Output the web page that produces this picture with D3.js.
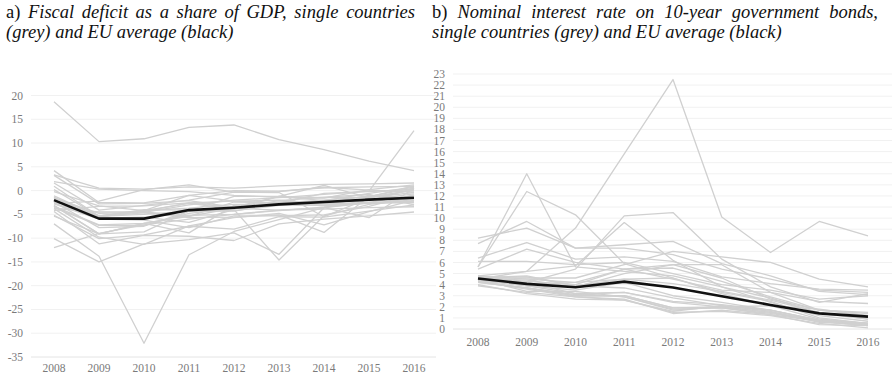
<!DOCTYPE html>
<html>
<head>
<meta charset="utf-8">
<script src="https://cdn.jsdelivr.net/npm/d3@7"></script>
<style>
  html, body { margin: 0; padding: 0; background: #fff; }
  svg { display: block; }
</style>
</head>
<body>
<svg id="chart" width="893" height="376"></svg>
<script>
// ---- data -------------------------------------------------------------
const years = [2008, 2009, 2010, 2011, 2012, 2013, 2014, 2015, 2016];

// Panel a: general government balance, % of GDP
const deficitTicks = [20, 15, 10, 5, 0, -5, -10, -15, -20, -25, -30, -35];
const deficitEU = [-2.0, -5.9, -5.9, -4.1, -3.6, -2.9, -2.4, -1.9, -1.5];
const deficitCountries = [
  [18.7, 10.3, 10.9, 13.3, 13.8, 10.7, 8.6, 6.2, 4.2],
  [-7.0, -13.8, -32.1, -13.5, -8.6, -6.1, -3.6, -1.9, -0.7],
  [-10.1, -15.0, -11.2, -10.3, -8.9, -13.4, -3.6, -5.7, 0.5],
  [-1.4, -5.8, -5.6, -6.7, -4.0, -14.6, -5.3, -2.9, -1.9],
  [-12.0, -9.0, -7.2, -6.0, -5.0, -4.2, -3.5, -2.5, -1.0],
  [-1.6, -4.8, -4.6, -3.0, -2.0, -1.5, -0.8, -0.1, 12.6],
  [-4.4, -11.2, -9.4, -9.6, -10.5, -7.0, -6.0, -5.3, -4.5],
  [-3.8, -9.8, -11.3, -7.4, -5.7, -4.8, -7.2, -4.4, -2.0],
  [-5.2, -10.1, -9.3, -7.5, -8.1, -5.5, -5.6, -4.3, -3.0],
  [-3.3, -7.2, -6.9, -5.2, -5.0, -4.1, -3.9, -3.6, -3.4],
  [-2.8, -6.0, -6.2, -7.8, -5.3, -5.3, -5.1, -3.3, -0.9],
  [-2.7, -5.3, -4.2, -3.7, -2.9, -2.9, -3.0, -2.6, -2.5],
  [0.9, -5.4, -4.7, -5.7, -5.6, -5.1, -8.8, -1.2, 0.5],
  [-3.2, -9.1, -8.7, -4.3, -1.2, -1.2, -1.5, -1.4, 0.1],
  [-3.1, -9.1, -6.9, -8.9, -3.1, -2.6, -0.6, -0.2, 0.3],
  [3.3, 0.5, 0.3, 0.8, 0.5, 1.0, 1.3, 1.4, 1.6],
  [-3.7, -4.5, -4.5, -5.4, -2.4, -2.6, -2.6, -1.9, -1.7],
  [-4.2, -3.3, -3.2, -2.6, -3.6, -2.6, -2.0, -1.3, 1.0],
  [0.2, -5.4, -5.0, -4.3, -3.9, -2.4, -2.3, -2.1, 0.4],
  [-1.5, -5.3, -4.4, -2.6, -2.2, -2.0, -2.7, -1.0, -1.6],
  [-3.6, -7.3, -7.3, -4.8, -3.7, -4.1, -3.6, -2.6, -2.5],
  [-5.4, -9.1, -6.9, -5.4, -3.7, -2.1, -1.4, -0.8, -3.0],
  [-2.4, -7.8, -7.5, -4.3, -4.3, -2.7, -2.7, -2.7, -2.2],
  [4.2, -2.5, -2.6, -1.0, -2.2, -2.6, -3.2, -2.7, -1.7],
  [1.9, 0.3, 0.0, -0.2, -1.0, -1.4, -1.6, 0.2, 1.2],
  [-0.2, -3.2, -4.2, -1.0, 0.0, -0.1, 0.6, 0.8, 0.9],
  [3.2, -2.8, -2.7, -2.1, -3.5, -1.2, 1.1, -1.5, -0.4],
  [-2.7, -2.2, 0.2, 1.2, -0.3, -0.2, 0.7, 0.1, -0.3],
  [1.6, -4.1, -3.1, -2.0, -0.3, -0.4, -5.5, -1.6, 0.2],
  [-2.0, -5.5, -4.2, -2.7, -3.9, -1.2, -2.1, -0.6, 0.7],
  [-1.1, -5.4, -4.0, -4.1, -4.2, -3.1, -3.1, -2.5, -2.4]
];

// Panel b: nominal 10-year government bond yields, %
const rateTicks = d3.range(0, 24);
const rateEU = [4.55, 4.07, 3.77, 4.27, 3.74, 2.95, 2.17, 1.41, 1.12];
const rateCountries = [
  [4.8, 5.2, 9.1, 15.8, 22.5, 10.1, 6.9, 9.7, 8.4],
  [5.6, 12.4, 10.3, 5.9, 4.6, 3.3, 2.5, 1.0, 0.5],
  [5.6, 14.0, 5.6, 5.2, 4.8, 3.8, 2.8, 1.4, 0.9],
  [8.2, 9.1, 7.3, 7.6, 7.9, 5.9, 4.8, 3.4, 3.1],
  [7.7, 9.7, 7.3, 7.3, 6.7, 5.4, 4.5, 3.5, 3.3],
  [4.5, 4.2, 5.4, 10.2, 10.5, 6.3, 3.8, 2.4, 3.2],
  [4.5, 5.2, 5.7, 9.6, 6.2, 3.8, 2.4, 1.2, 0.7],
  [6.1, 6.1, 5.8, 6.0, 5.0, 4.0, 3.5, 2.7, 3.0],
  [5.4, 7.2, 6.0, 5.4, 4.5, 3.5, 3.3, 2.5, 2.3],
  [4.6, 4.6, 4.6, 5.8, 7.0, 6.5, 6.0, 4.5, 3.8],
  [4.6, 4.4, 3.8, 5.0, 5.8, 5.8, 3.3, 1.7, 1.2],
  [6.4, 7.8, 6.3, 6.5, 6.1, 4.7, 4.1, 3.6, 3.5],
  [4.4, 4.0, 4.2, 5.4, 5.8, 4.6, 2.7, 1.7, 1.4],
  [4.7, 4.3, 4.0, 5.4, 5.5, 4.3, 2.9, 1.7, 1.5],
  [4.7, 4.7, 3.9, 4.5, 4.6, 3.2, 2.1, 0.9, 0.5],
  [4.8, 4.5, 4.2, 4.5, 4.1, 3.4, 2.6, 1.5, 0.9],
  [4.6, 4.8, 3.9, 3.7, 2.8, 2.1, 1.6, 0.6, 0.4],
  [4.4, 3.9, 3.5, 4.2, 3.0, 2.4, 1.7, 0.8, 0.5],
  [4.2, 3.7, 3.1, 3.3, 2.5, 2.2, 1.7, 0.8, 0.5],
  [4.4, 3.9, 3.2, 3.3, 2.4, 2.0, 1.5, 0.7, 0.4],
  [4.2, 3.7, 3.0, 3.0, 1.9, 2.0, 1.5, 0.7, 0.3],
  [4.3, 3.7, 3.0, 3.0, 1.9, 1.9, 1.4, 0.7, 0.4],
  [4.0, 3.2, 2.7, 2.6, 1.5, 1.6, 1.2, 0.5, 0.1],
  [4.3, 3.6, 2.9, 2.7, 1.4, 1.7, 1.3, 0.7, 0.3],
  [3.9, 3.3, 2.9, 2.6, 1.6, 2.1, 1.7, 0.7, 0.5],
  [4.6, 4.2, 3.2, 2.9, 1.8, 1.9, 1.3, 0.4, 0.3],
  [4.5, 3.4, 3.4, 2.9, 1.7, 2.0, 2.1, 1.8, 1.2]
];

// ---- titles -----------------------------------------------------------
const titleA1 = ["a)", "Fiscal", "deficit", "as", "a", "share", "of", "GDP,", "single", "countries"];
const titleA2 = ["(grey)", "and", "EU", "average", "(black)"];
const titleB1 = ["b)", "Nominal", "interest", "rate", "on", "10-year", "government", "bonds,"];
const titleB2 = ["single", "countries", "(grey)", "and", "EU", "average", "(black)"];

const svg = d3.select("#chart");
const SERIF = "Liberation Serif";
const TITLE_SIZE = 18.5;

// Lay out a line of words; justified lines spread the spare room over the gaps.
function titleLine(words, x0, x1, y, justify) {
  const g = svg.append("g");
  const nodes = words.map(w => g.append("text")
    .attr("y", y)
    .attr("font-family", SERIF)
    .attr("font-size", TITLE_SIZE)
    .attr("fill", "#111")
    .attr("font-style", /^[ab]\)$/.test(w) ? "normal" : "italic")
    .text(w));
  const widths = nodes.map(n => n.node().getComputedTextLength());
  const total = d3.sum(widths);
  const gap = justify ? (x1 - x0 - total) / (words.length - 1) : TITLE_SIZE * 0.25;
  let x = x0;
  nodes.forEach((n, i) => { n.attr("x", x); x += widths[i] + gap; });
}
titleLine(titleA1, 6, 415, 18, true);
titleLine(titleA2, 6, 0, 38, false);
titleLine(titleB1, 432, 878, 18, true);
titleLine(titleB2, 432, 0, 38, false);

// ---- panel builder ----------------------------------------------------
function panel(cfg) {
  const g = svg.append("g").attr("font-family", SERIF);
  const x = d3.scalePoint().domain(years).range(cfg.xRange);
  const y = d3.scaleLinear().domain(cfg.yDomain).range(cfg.yRange);

  // horizontal gridlines
  g.append("g").selectAll("line").data(cfg.ticks).join("line")
    .attr("x1", cfg.gridX[0]).attr("x2", cfg.gridX[1])
    .attr("y1", d => y(d)).attr("y2", d => y(d))
    .attr("stroke", d => d === cfg.yDomain[0] ? "#e4e4e4" : "#f1f1f1")
    .attr("stroke-width", 1);

  // y tick labels
  g.append("g").selectAll("text").data(cfg.ticks).join("text")
    .attr("x", cfg.labelX)
    .attr("y", d => y(d))
    .attr("dy", "0.35em")
    .attr("text-anchor", "end")
    .attr("font-size", 11.5)
    .attr("fill", "#7a7a7a")
    .text(d => d);

  // x tick labels
  g.append("g").selectAll("text").data(years).join("text")
    .attr("x", d => x(d))
    .attr("y", cfg.xLabelY)
    .attr("text-anchor", "middle")
    .attr("font-size", 11.5)
    .attr("fill", "#7a7a7a")
    .text(d => d);

  const line = d3.line().x((d, i) => x(years[i])).y(d => y(d));

  g.append("g").selectAll("path").data(cfg.series).join("path")
    .attr("d", line)
    .attr("fill", "none")
    .attr("stroke", "#d0d0d0")
    .attr("stroke-width", 1.3)
    .attr("stroke-linejoin", "round");

  g.append("path").datum(cfg.average)
    .attr("d", line)
    .attr("fill", "none")
    .attr("stroke", "#111")
    .attr("stroke-width", 2.6)
    .attr("stroke-linejoin", "round");
}

panel({
  xRange: [54, 414], gridX: [31, 436],
  yDomain: [-35, 20], yRange: [357, 95.5],
  ticks: deficitTicks, labelX: 23, xLabelY: 372,
  series: deficitCountries, average: deficitEU
});

panel({
  xRange: [478, 868], gridX: [453, 892],
  yDomain: [0, 23], yRange: [329, 74],
  ticks: rateTicks, labelX: 445, xLabelY: 346,
  series: rateCountries, average: rateEU
});
</script>
</body>
</html>
